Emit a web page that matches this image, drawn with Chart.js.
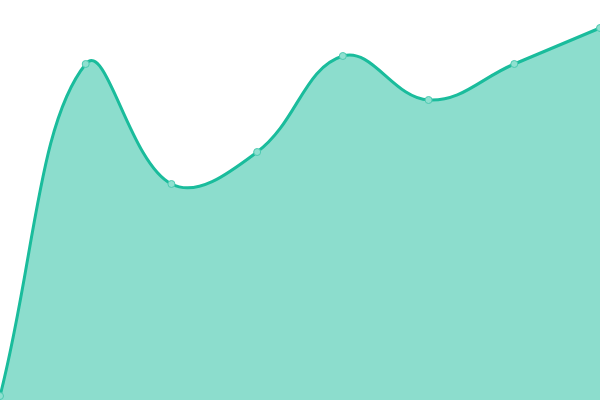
<!DOCTYPE html>
<html>
<head>
<meta charset="utf-8">
<script src="https://cdn.jsdelivr.net/npm/chart.js@4"></script>
<style>
  html, body { margin: 0; padding: 0; background: #fff; }
  #wrap { width: 600px; height: 400px; }
</style>
</head>
<body>
<div id="wrap"><canvas id="areaChart"></canvas></div>
<script>
// values (scale 0..100)
const labels = ["1", "2", "3", "4", "5", "6", "7", "8"];
const values = [1, 84, 54, 62, 86, 75, 84, 93];

document.addEventListener("DOMContentLoaded", function() {
    const ctx = document.getElementById("areaChart").getContext("2d");

    new Chart(ctx, {
        type: "line",
        data: {
            labels: labels,
            datasets: [{
                data: values,
                fill: true,
                tension: 0.4,
                borderColor: "#1abc9c",
                backgroundColor: "rgba(26, 188, 156, 0.5)",
                borderWidth: 3,
                pointRadius: 3.5,
                pointBorderWidth: 1,
                pointBackgroundColor: "#8fe0d0",
                pointBorderColor: "#4cc9b0",
                clip: false
            }]
        },
        options: {
            responsive: true,
            maintainAspectRatio: false,
            animation: false,
            layout: { padding: 0, autoPadding: false },
            plugins: {
                legend: { display: false },
                tooltip: { enabled: false }
            },
            scales: {
                x: { display: false, offset: false },
                y: { display: false, min: 0, max: 100 }
            }
        }
    });
});
</script>
</body>
</html>
